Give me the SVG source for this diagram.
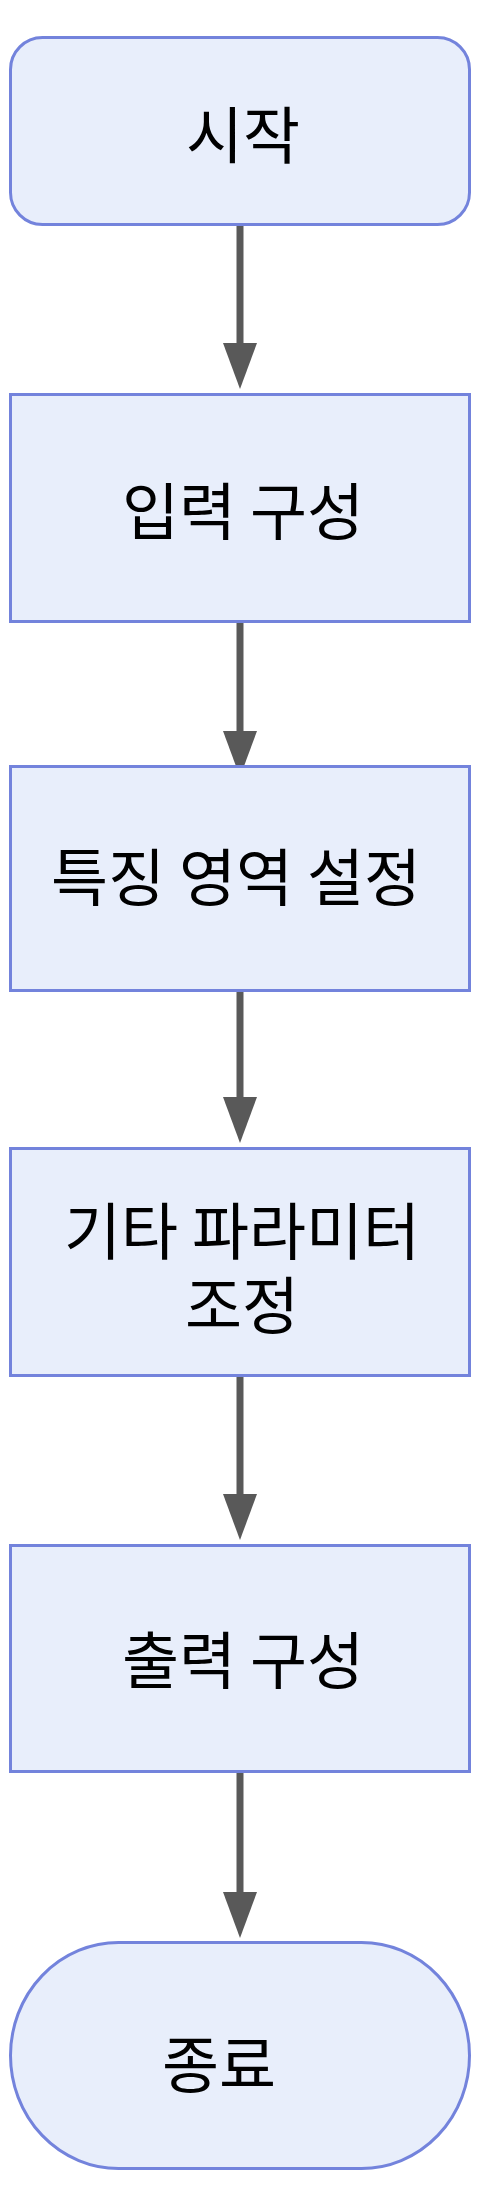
<svg xmlns="http://www.w3.org/2000/svg" width="488" height="2206" viewBox="0 0 488 2206">
<style>
.node{fill:#e8eefb;stroke:#7383dc;stroke-width:3}
.lbl{font-family:"Noto Sans CJK KR","Noto Sans",sans-serif;font-size:62px;fill:#000;text-anchor:middle;dominant-baseline:central}
.edge{stroke:#595959;stroke-width:7;fill:none}
</style>
<defs>
<marker id="ah" viewBox="0 -17 46 34" refX="1" refY="0" markerWidth="46" markerHeight="34" markerUnits="userSpaceOnUse" orient="auto">
<path d="M0,-17 L46,0 L0,17 z" fill="#595959"/>
</marker>
</defs>
<g id="connectors">
<path class="edge" d="M240,226 L240,344" marker-end="url(#ah)"/>
<path class="edge" d="M240,623 L240,732" marker-end="url(#ah)"/>
<path class="edge" d="M240,992 L240,1098" marker-end="url(#ah)"/>
<path class="edge" d="M240,1377 L240,1495" marker-end="url(#ah)"/>
<path class="edge" d="M240,1773 L240,1893" marker-end="url(#ah)"/>
</g>
<g id="start">
<rect class="node" x="10.5" y="37.5" width="459" height="187" rx="32" ry="32"/>
<text class="lbl" x="243" y="131.5">시작</text>
</g>
<g id="input">
<rect class="node" x="10.5" y="394.5" width="459" height="227"/>
<text class="lbl" x="243" y="508">입력 구성</text>
</g>
<g id="feature">
<rect class="node" x="10.5" y="766.5" width="459" height="224"/>
<text class="lbl" x="236" y="874">특징 영역 설정</text>
</g>
<g id="params">
<rect class="node" x="10.5" y="1148.5" width="459" height="227"/>
<text class="lbl"><tspan x="242" y="1227.5">기타 파라미터</tspan><tspan x="242" y="1301.5">조정</tspan></text>
</g>
<g id="output">
<rect class="node" x="10.5" y="1545.5" width="459" height="226"/>
<text class="lbl" x="243" y="1656.5">출력 구성</text>
</g>
<g id="end">
<rect class="node" x="10.5" y="1942.5" width="459" height="226" rx="108" ry="113"/>
<text class="lbl" x="219" y="2060.5">종료</text>
</g>
</svg>
